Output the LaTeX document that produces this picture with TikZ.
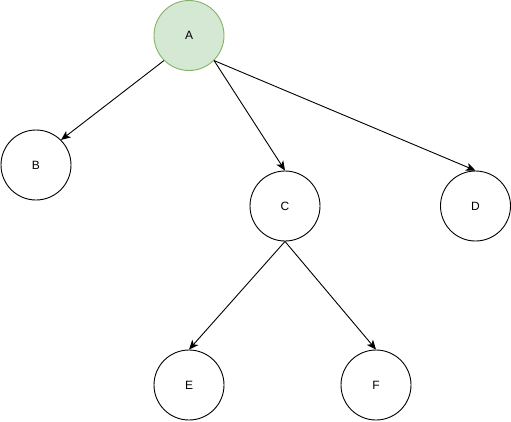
\documentclass[tikz,border=0pt]{standalone}
\usepackage{fontspec}
\setmainfont{Liberation Sans}
\usetikzlibrary{arrows.meta}
\definecolor{rootfill}{HTML}{D5E8D4}
\definecolor{rootline}{HTML}{82B366}

\begin{document}
\begin{tikzpicture}[x=1pt, y=-1pt, font=\fontsize{12}{14}\selectfont,
  vertex/.style={circle, draw=black, line width=0.9pt, minimum size=70pt, inner sep=0pt},
  root/.style={vertex, draw=rootline, fill=rootfill},
  edge/.style={-{Stealth[length=9.5pt, width=8pt, inset=2.5pt]}, line width=0.9pt}]
  \useasboundingbox (0,0) rectangle (511,421);
  \node[root] (A) at (189,35.5) {A};
  \node[vertex] (B) at (36,165) {B};
  \node[vertex] (C) at (285,206) {C};
  \node[vertex] (D) at (475.5,206) {D};
  \node[vertex] (E) at (189,385) {E};
  \node[vertex] (F) at (376,385) {F};
  \draw[edge] (A.-135) -- (B.45);
  \draw[edge] (A.-45) -- (C.north);
  \draw[edge] (A.-45) -- (D.north);
  \draw[edge] (C.south) -- (E.north);
  \draw[edge] (C.south) -- (F.north);
\end{tikzpicture}
\end{document}
